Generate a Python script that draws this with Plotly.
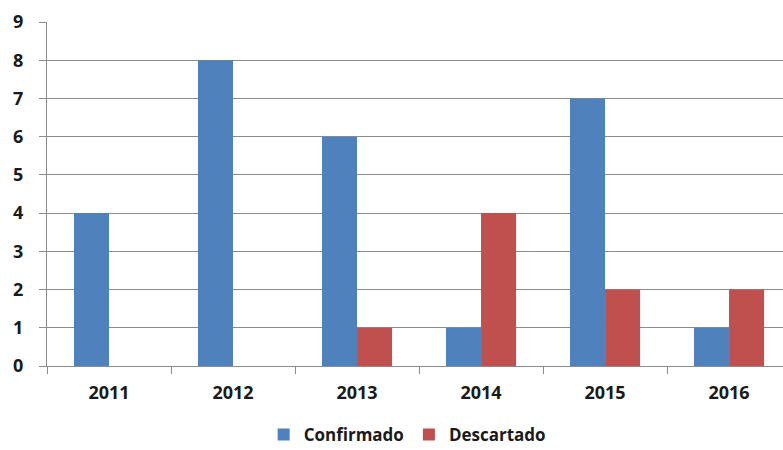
import plotly.graph_objects as go

years = ["2011", "2012", "2013", "2014", "2015", "2016"]
confirmado = [4, 8, 6, 1, 7, 1]
descartado = [0, 0, 1, 4, 2, 2]
y_ticks = list(range(0, 10))

BLUE = "#4F81BD"
RED = "#C0504D"
GRID = "#8C8C8C"
TEXT_FONT = dict(family="Open Sans, Lato, sans-serif", size=18, color="#1a1a1a", weight="bold")

fig = go.Figure()
fig.add_trace(go.Bar(x=years, y=confirmado, name="Confirmado", marker_color=BLUE, marker_line_width=0))
fig.add_trace(go.Bar(x=years, y=descartado, name="Descartado", marker_color=RED, marker_line_width=0))

fig.update_layout(
    width=783, height=450,
    margin=dict(l=47, r=0, t=22, b=84, autoexpand=False),
    paper_bgcolor="white", plot_bgcolor="white",
    barmode="group", bargap=0.435, bargroupgap=0,
    font=TEXT_FONT,
    showlegend=True,
    legend=dict(orientation="h", x=0.49, xanchor="center",
                yref="container", y=(450 - 435) / 450, yanchor="middle",
                bgcolor="rgba(0,0,0,0)",
                font=dict(family="Open Sans, Lato, sans-serif", size=17, color="#1a1a1a"),
                itemwidth=30, traceorder="normal"),
)
fig.update_xaxes(
    type="category", range=[-0.5, 5.435], automargin=False,
    showline=True, linecolor=GRID, linewidth=1,
    ticks="outside", tickson="boundaries", ticklen=7, tickcolor=GRID,
    ticklabelstandoff=10,
    showgrid=False, tickfont=TEXT_FONT,
)
fig.update_yaxes(
    range=[0, 9], tickvals=y_ticks, automargin=False,
    showline=True, linecolor=GRID, linewidth=1,
    ticks="outside", ticklen=7, tickcolor=GRID,
    ticklabelstandoff=12,
    showgrid=True, gridcolor=GRID, gridwidth=1, zeroline=False,
    tickfont=TEXT_FONT,
)

fig.write_html("out.html")
